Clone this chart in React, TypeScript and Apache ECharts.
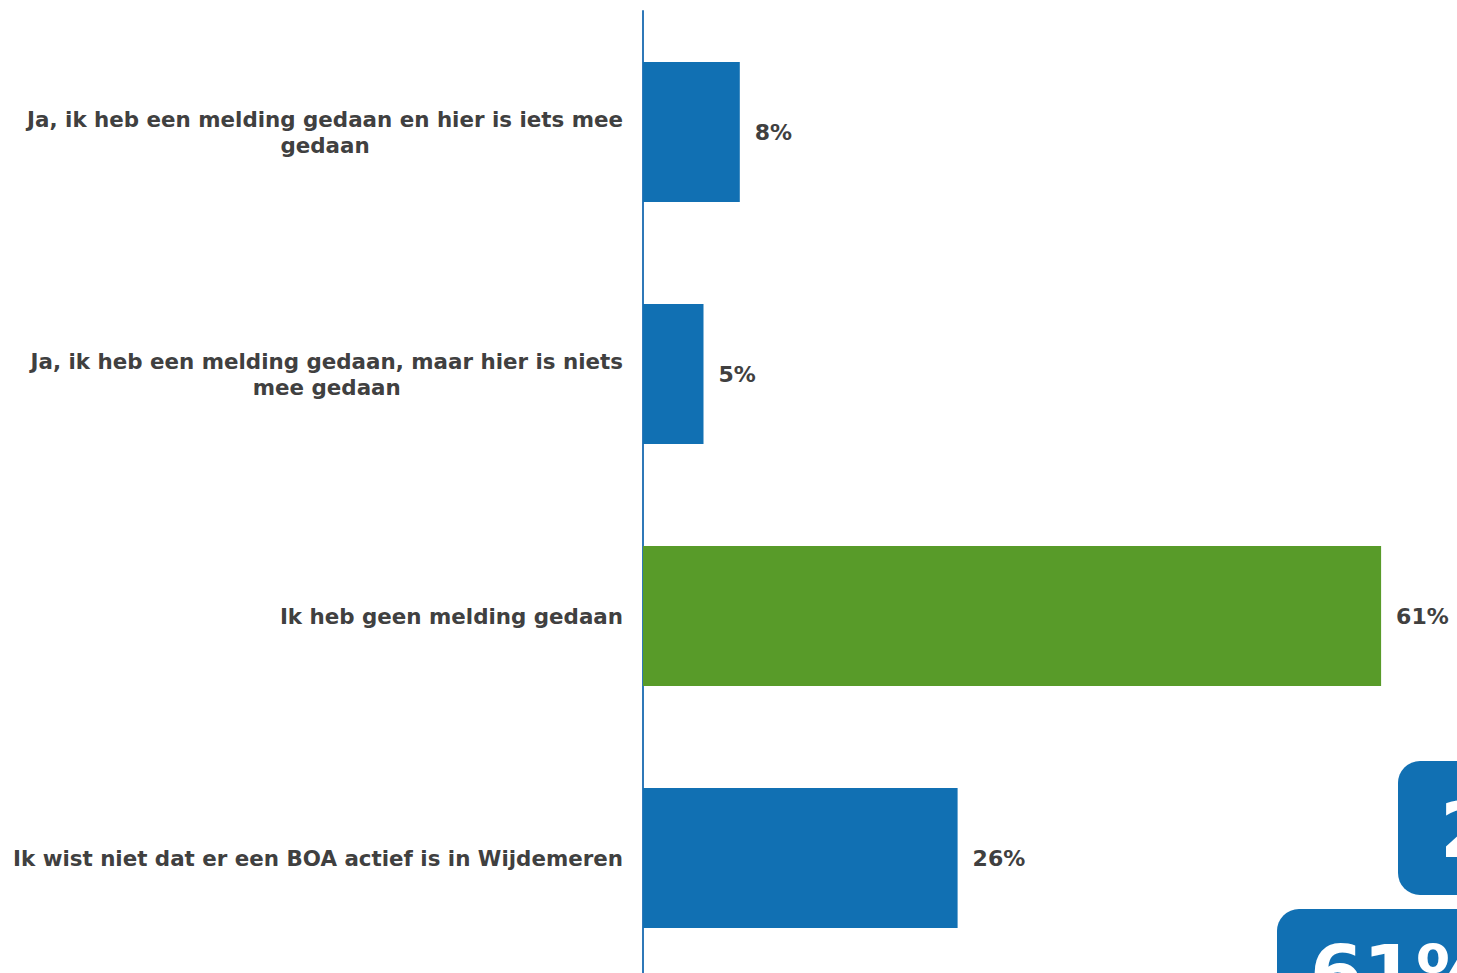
import React, { useEffect, useRef } from "react";
import * as echarts from "echarts";

const categories: string[] = [
  "Ja, ik heb een melding gedaan en hier is iets mee\ngedaan",
  "Ja, ik heb een melding gedaan, maar hier is niets\nmee gedaan",
  "Ik heb geen melding gedaan",
  "Ik wist niet dat er een BOA actief is in Wijdemeren",
];
const values: number[] = [8, 5, 61, 26];
const barColors: string[] = ["#1170B3", "#1170B3", "#589B29", "#1170B3"];
const badgeTexts: string[] = ["26%", "61%"];

export default function App() {
  const ref = useRef<HTMLDivElement>(null);
  useEffect(() => {
    if (!ref.current) return;
    const chart = echarts.init(ref.current, undefined, { renderer: "svg" });
    const font = "'DejaVu Sans', Verdana, sans-serif";
    chart.setOption({
      animation: false,
      backgroundColor: "#ffffff",
      grid: { left: 643, right: 10, top: 11, bottom: 21, containLabel: false },
      xAxis: {
        type: "value",
        min: 0,
        max: 70,
        show: false,
      },
      yAxis: {
        type: "category",
        inverse: true,
        data: categories,
        axisLine: { show: true, lineStyle: { color: "#2F78B8", width: 2 } },
        axisTick: { show: false },
        splitLine: { show: false },
        axisLabel: {
          margin: 20,
          formatter: (v: string) =>
            v
              .split("\n")
              .map((l) => "{c|" + l + "}")
              .join("\n"),
          rich: {
            c: {
              align: "center",
              fontFamily: font,
              fontWeight: "bold",
              fontSize: 21.4,
              lineHeight: 26,
              color: "#404040",
            },
          },
        },
      },
      series: [
        {
          type: "bar",
          barWidth: 140,
          data: values.map((v, i) => ({ value: v, itemStyle: { color: barColors[i] } })),
          label: {
            show: true,
            position: "right",
            distance: 15,
            formatter: "{c}%",
            fontFamily: font,
            fontWeight: "bold",
            fontSize: 22,
            color: "#404040",
          },
        },
      ],
      graphic: [
        {
          type: "rect",
          shape: { x: 1398, y: 761, width: 300, height: 134, r: 22 },
          style: { fill: "#1170B3" },
        },
        {
          type: "text",
          x: 1440,
          y: 830,
          style: {
            text: badgeTexts[0],
            fill: "#ffffff",
            font: "bold 76px 'DejaVu Sans', sans-serif",
            textVerticalAlign: "middle",
          },
        },
        {
          type: "rect",
          shape: { x: 1277, y: 909, width: 400, height: 200, r: 22 },
          style: { fill: "#1170B3" },
        },
        {
          type: "text",
          x: 1310,
          y: 935,
          style: {
            text: badgeTexts[1],
            fill: "#ffffff",
            font: "bold 76px 'DejaVu Sans', sans-serif",
            textVerticalAlign: "top",
          },
        },
      ],
    });
    return () => chart.dispose();
  }, []);
  return (
    <div
      style={{
        position: "absolute",
        left: 0,
        top: 0,
        width: 1457,
        height: 973,
        overflow: "hidden",
        background: "#fff",
      }}
    >
      <div ref={ref} style={{ width: 1500, height: 1000 }} />
    </div>
  );
}
